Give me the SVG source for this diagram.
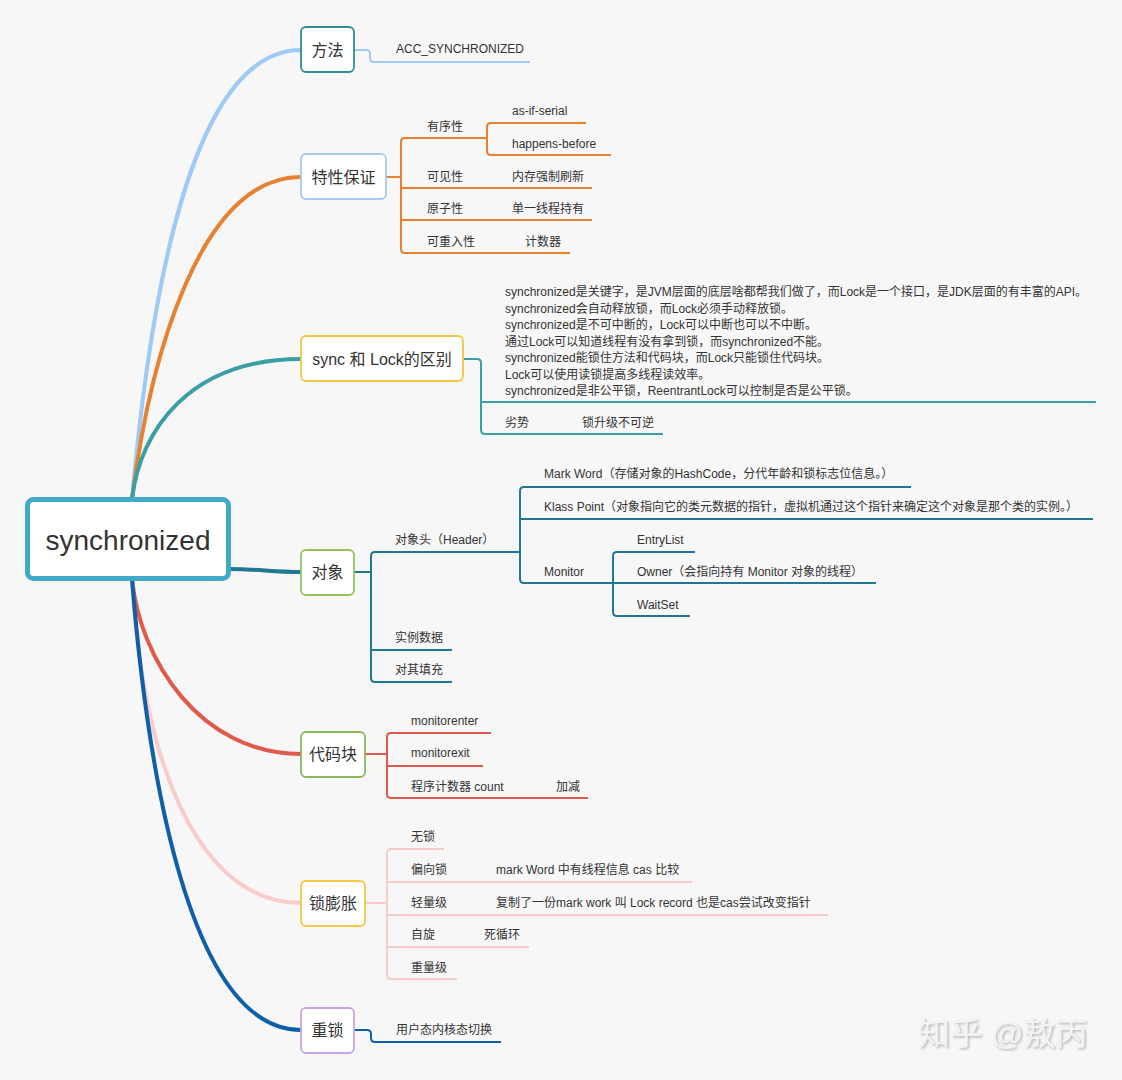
<svg xmlns="http://www.w3.org/2000/svg" width="1122" height="1080" viewBox="0 0 1122 1080">
<defs>
<style>
text{font-family:"Liberation Sans","Noto Sans CJK SC",sans-serif;fill:#333}
.t{font-size:12px}
.m{font-size:16px;text-anchor:middle}
.box{fill:#fff;stroke-width:1.8}
.main{fill:none;stroke-width:4;stroke-linecap:round}
.sub{fill:none;stroke-width:2}
</style>
<filter id="sh" x="-10%" y="-30%" width="130%" height="160%">
<feDropShadow dx="1.5" dy="1.5" stdDeviation="0.8" flood-color="#9a9a9a" flood-opacity="0.7"/>
</filter>
</defs>
<rect width="1122" height="1080" fill="#f7f7f7"/>

<g id="connectors">
<path class="main" stroke="#9ecbf5" d="M132,499 C150,300 190,50 301,50"/>
<path class="main" stroke="#e58131" d="M132,499 C150,357 200,177 301,177"/>
<path class="main" stroke="#3a9ea5" d="M132,499 C140,430 190,359 301,359"/>
<path class="main" stroke="#1e7891" d="M229,569 C260,569 270,572 301,572"/>
<path class="main" stroke="#e0594b" d="M132,579 C140,660 200,754 301,754"/>
<path class="main" stroke="#f9cbcb" d="M132,579 C140,740 190,903 301,903"/>
<path class="main" stroke="#0e5ea8" d="M132,579 C148,777 190,1030 301,1030"/>

<path class="sub" stroke="#9ecbf5" d="M354,50 H366 Q370,50 370,54 V58 Q370,62 374,62 H530"/>

<g stroke="#e58131">
<path class="sub" d="M386,177 H401"/>
<path class="sub" d="M487,138 H405 Q401,138 401,142 V249 Q401,253 405,253 H570"/>
<path class="sub" d="M401,188 H592"/>
<path class="sub" d="M401,220 H592"/>
<path class="sub" d="M586,123 H491 Q487,123 487,127 V151 Q487,155 491,155 H611"/>
</g>

<g stroke="#3a9ea5">
<path class="sub" d="M463,359 H477 Q481,359 481,363 V430 Q481,434 485,434 H663"/>
<path class="sub" d="M481,402 H1096"/>
</g>

<g stroke="#1e7891">
<path class="sub" d="M354,572 H371"/>
<path class="sub" d="M520,552 H375 Q371,552 371,556 V678 Q371,682 375,682 H452"/>
<path class="sub" d="M371,650 H452"/>
<path class="sub" d="M911,487 H524 Q520,487 520,491 V579 Q520,583 524,583 H613"/>
<path class="sub" d="M520,519 H1093"/>
<path class="sub" d="M695,552 H617 Q613,552 613,556 V612 Q613,616 617,616 H690"/>
<path class="sub" d="M613,583 H876"/>
</g>

<g stroke="#e0594b">
<path class="sub" d="M365,754 H387"/>
<path class="sub" d="M491,733 H391 Q387,733 387,737 V794 Q387,798 391,798 H588"/>
<path class="sub" d="M387,766 H483"/>
</g>

<g stroke="#f9cbcb">
<path class="sub" d="M365,903 H387"/>
<path class="sub" d="M444,849 H391 Q387,849 387,853 V975 Q387,979 391,979 H457"/>
<path class="sub" d="M387,882 H692"/>
<path class="sub" d="M387,915 H828"/>
<path class="sub" d="M387,947 H529"/>
</g>

<path class="sub" stroke="#0e5ea8" d="M353,1030 H367 Q371,1030 371,1034 V1038 Q371,1042 375,1042 H501"/>
</g>

<g id="root">
<rect x="27.5" y="499.5" width="201" height="79" rx="6" fill="#fff" stroke="#40a8c8" stroke-width="5"/>
<text x="128" y="550" font-size="28" text-anchor="middle">synchronized</text>
</g>

<g id="n-fangfa">
<rect class="box" x="301" y="27" width="53" height="45" rx="5" stroke="#2f8f8f"/>
<text class="m" x="327.5" y="55.5">方法</text>
<text class="t" x="396" y="53">ACC_SYNCHRONIZED</text>
</g>

<g id="n-texing">
<rect class="box" x="301" y="154" width="85" height="45" rx="5" stroke="#a9c9ec"/>
<text class="m" x="343.5" y="182.5">特性保证</text>
<text class="t" x="427" y="131">有序性</text>
<text class="t" x="512" y="115">as-if-serial</text>
<text class="t" x="512" y="148">happens-before</text>
<text class="t" x="427" y="181">可见性</text>
<text class="t" x="512" y="181">内存强制刷新</text>
<text class="t" x="427" y="213">原子性</text>
<text class="t" x="512" y="213">单一线程持有</text>
<text class="t" x="427" y="246">可重入性</text>
<text class="t" x="525" y="246">计数器</text>
</g>

<g id="n-sync-lock">
<rect class="box" x="301" y="336" width="162" height="45" rx="5" stroke="#f4c542"/>
<text class="m" x="382" y="364.5">sync 和 Lock的区别</text>
<text class="t" x="505" y="296">synchronized是关键字，是JVM层面的底层啥都帮我们做了，而Lock是一个接口，是JDK层面的有丰富的API。</text>
<text class="t" x="505" y="312.5">synchronized会自动释放锁，而Lock必须手动释放锁。</text>
<text class="t" x="505" y="329">synchronized是不可中断的，Lock可以中断也可以不中断。</text>
<text class="t" x="505" y="345.5">通过Lock可以知道线程有没有拿到锁，而synchronized不能。</text>
<text class="t" x="505" y="362">synchronized能锁住方法和代码块，而Lock只能锁住代码块。</text>
<text class="t" x="505" y="378.5">Lock可以使用读锁提高多线程读效率。</text>
<text class="t" x="505" y="395">synchronized是非公平锁，ReentrantLock可以控制是否是公平锁。</text>
<text class="t" x="505" y="427">劣势</text>
<text class="t" x="582" y="427">锁升级不可逆</text>
</g>

<g id="n-duixiang">
<rect class="box" x="301" y="550" width="53" height="45" rx="5" stroke="#97c25b"/>
<text class="m" x="327.5" y="578">对象</text>
<text class="t" x="395" y="544">对象头（Header）</text>
<text class="t" x="544" y="478">Mark Word（存储对象的HashCode，分代年龄和锁标志位信息。）</text>
<text class="t" x="544" y="511">Klass Point（对象指向它的类元数据的指针，虚拟机通过这个指针来确定这个对象是那个类的实例。）</text>
<text class="t" x="544" y="576">Monitor</text>
<text class="t" x="637" y="544">EntryList</text>
<text class="t" x="637" y="576">Owner（会指向持有 Monitor 对象的线程）</text>
<text class="t" x="637" y="609">WaitSet</text>
<text class="t" x="395" y="642">实例数据</text>
<text class="t" x="395" y="674">对其填充</text>
</g>

<g id="n-daimakuai">
<rect class="box" x="301" y="732" width="64" height="45" rx="5" stroke="#8ab85a"/>
<text class="m" x="333" y="760">代码块</text>
<text class="t" x="411" y="725">monitorenter</text>
<text class="t" x="411" y="757">monitorexit</text>
<text class="t" x="411" y="791">程序计数器 count</text>
<text class="t" x="556" y="791">加减</text>
</g>

<g id="n-suopengzhang">
<rect class="box" x="301" y="881" width="64" height="45" rx="5" stroke="#f5c842"/>
<text class="m" x="333" y="909">锁膨胀</text>
<text class="t" x="411" y="841">无锁</text>
<text class="t" x="411" y="874">偏向锁</text>
<text class="t" x="496" y="874">mark Word 中有线程信息 cas 比较</text>
<text class="t" x="411" y="907">轻量级</text>
<text class="t" x="496" y="907">复制了一份mark work 叫 Lock record 也是cas尝试改变指针</text>
<text class="t" x="411" y="939">自旋</text>
<text class="t" x="484" y="939">死循环</text>
<text class="t" x="411" y="972">重量级</text>
</g>

<g id="n-zhongsuo">
<rect class="box" x="301" y="1008" width="53" height="45" rx="5" stroke="#c7a6e0"/>
<text class="m" x="327.5" y="1036">重锁</text>
<text class="t" x="396" y="1034">用户态内核态切换</text>
</g>

<text x="918" y="1045" font-size="32" style="fill:#f3f3f3" filter="url(#sh)">知乎 @敖丙</text>
</svg>
